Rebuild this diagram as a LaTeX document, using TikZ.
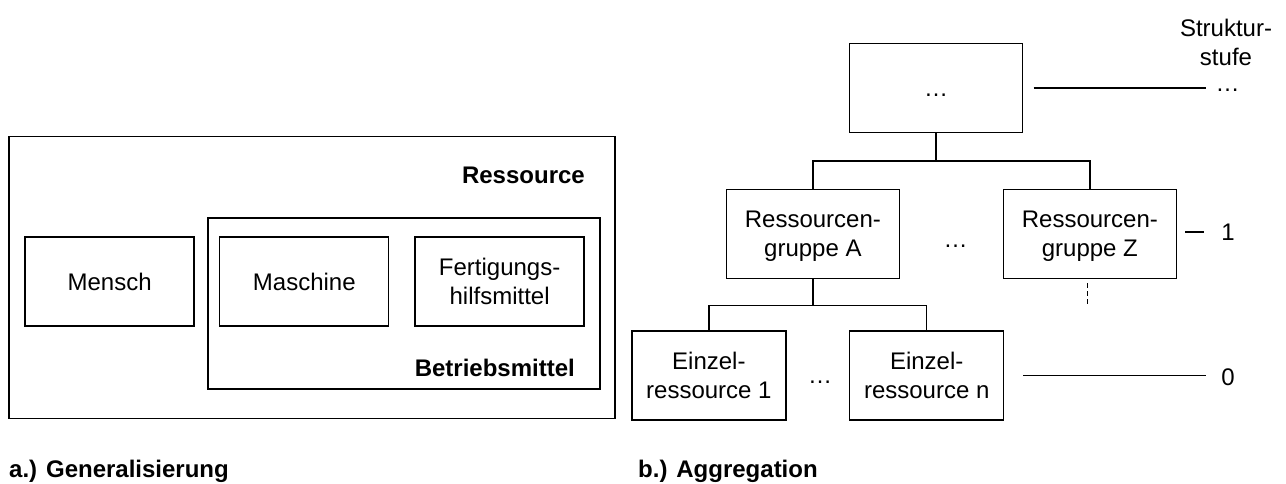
\documentclass[tikz,border=0pt]{standalone}
\usepackage{fontspec}
\setmainfont{Liberation Sans}
\begin{document}
\begin{tikzpicture}[x=1pt,y=-1pt,
  every node/.style={font=\fontsize{24}{29}\selectfont},
  box/.style={draw, line width=1.3pt, inner sep=0pt, align=center, text depth=0pt},
  small/.style={box, minimum width=169pt, minimum height=89pt},
  group/.style={box, minimum width=173pt, minimum height=89pt},
  single/.style={box, minimum width=154pt, minimum height=89pt},
  heading/.style={font=\fontsize{24}{29}\selectfont\bfseries, inner sep=0pt},
  plain/.style={inner sep=0pt, align=center},
  conn/.style={line width=1.3pt}
]
\useasboundingbox (0,0) rectangle (1286,484);

% a.) Generalisierung
\node[box, minimum width=606pt, minimum height=282pt] (res) at (312,277.5) {};
\node[box, minimum width=392pt, minimum height=171pt] (bm) at (404,303.5) {};
\node[small] (mensch) at (109.6,281.5) {Mensch};
\node[small] (masch) at (304.3,281.5) {Maschine};
\node[small] (fhm) at (499.6,281.5) {Fertigungs-\\hilfsmittel};
\node[heading, anchor=east] (resl) at (585,175) {Ressource};
\node[heading, anchor=east] (bml) at (575,368) {Betriebsmittel};
\node[heading, anchor=base west] (capa) at (9,477) {a.) Generalisierung};

% b.) Aggregation
\node[group] (top) at (936,88) {\vphantom{A}…};
\node[group] (ga) at (812.9,234) {Ressourcen-\\gruppe A};
\node[group] (gz) at (1089.9,234) {Ressourcen-\\gruppe Z};
\node[single] (e1) at (708.9,375.5) {Einzel-\\ressource 1};
\node[single] (en) at (926.7,375.5) {Einzel-\\ressource n};
\node[plain] (dotsg) at (955.6,246) {…};
\node[plain] (dotse) at (820,382) {…};
\node[heading, anchor=base west] (capb) at (638,477) {b.) Aggregation};

\draw[conn] (top.south) -- ++(0,28) -| (ga.north);
\draw[conn] (top.south) -- ++(0,28) -| (gz.north);
\draw[conn] (ga.south) -- ++(0,26) -| (e1.north);
\draw[conn] (ga.south) -- ++(0,26) -| (en.north);
\draw[conn, dash pattern=on 5pt off 3pt] ([xshift=-2.5pt,yshift=-4pt]gz.south) -- ++(0,23);

% Strukturstufen
\node[plain] (stufe) at (1226,42) {Struktur-\\stufe};
\node[plain] (lvtop) at (1227.5,90) {…};
\node[plain] (lv1) at (1228,232) {1};
\node[plain] (lv0) at (1228,377) {0};
\draw[conn] ([xshift=10.5pt]top.east) -- ([xshift=-9.5pt]lvtop.west |- top.east);
\draw[conn] ([xshift=-36pt]lv1.west) -- ([xshift=-17pt]lv1.west);
\draw[conn] ([xshift=19pt]en.east) -- ([xshift=-15pt]lv0.west |- en.east);
\end{tikzpicture}
\end{document}
